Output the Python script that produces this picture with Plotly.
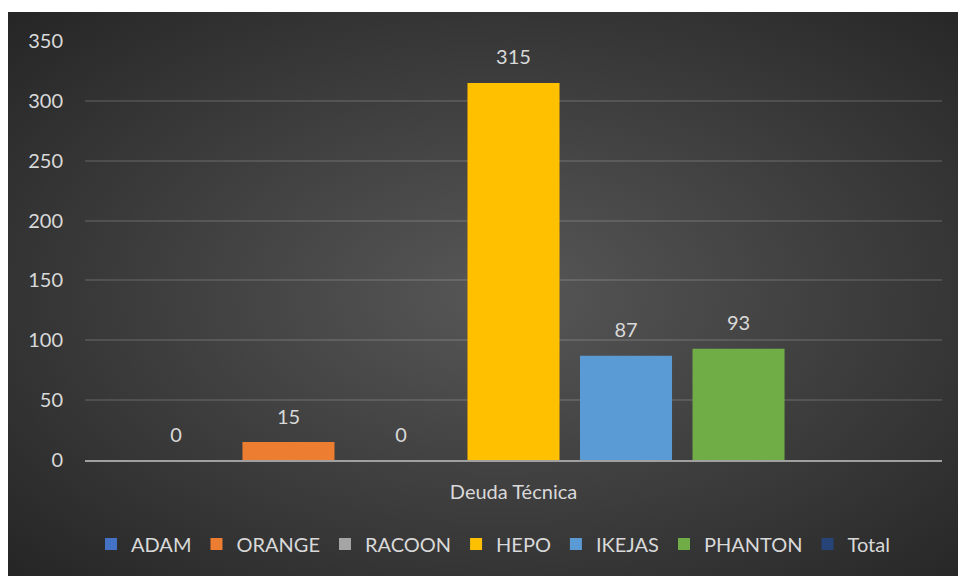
import base64
import plotly.graph_objects as go

# ---- data ----
categories = ["Deuda Técnica"]
series_names = ["ADAM", "ORANGE", "RACOON", "HEPO", "IKEJAS", "PHANTON", "Total"]
series_values = [0, 15, 0, 315, 87, 93, None]
series_colors = ["#4472C4", "#ED7D31", "#A5A5A5", "#FFC000", "#5B9BD5", "#70AD47", "#264478"]
y_ticks = [0, 50, 100, 150, 200, 250, 300, 350]

FONT = "Lato, 'Open Sans', sans-serif"
TXT = "#d9d9d9"

# ---- background radial gradient (styling) ----
svg = (
    '<svg xmlns="http://www.w3.org/2000/svg" width="950" height="564" viewBox="0 0 950 564" preserveAspectRatio="none">'
    '<defs><radialGradient id="g" cx="52%" cy="50%" r="71%">'
    '<stop offset="0" stop-color="#575757"/><stop offset="1" stop-color="#262626"/>'
    '</radialGradient></defs><rect width="950" height="564" fill="url(#g)"/></svg>'
)
src = "data:image/svg+xml;base64," + base64.b64encode(svg.encode()).decode()

W, H = 958, 576
L, R, T, B = 85, 16, 41, 116
pw, ph = W - L - R, H - T - B
def px(x): return (x - L) / pw
def py(y): return (H - B - y) / ph

fig = go.Figure()
for name, val, col in zip(series_names, series_values, series_colors):
    fig.add_trace(go.Bar(
        x=categories, y=[val], name=name, marker=dict(color=col, line=dict(width=0)),
    ))
for name, val in zip(series_names, series_values):
    fig.add_trace(go.Scatter(
        x=categories, y=[val], mode="markers+text", showlegend=False,
        text=[None if val is None else str(val)], textposition="top center",
        textfont=dict(color=TXT, size=20, family=FONT),
        marker=dict(size=20, opacity=0), orientation="v", hoverinfo="skip",
    ))

fig.update_layout(
    width=W, height=H,
    margin=dict(l=L, r=R, t=T, b=B, autoexpand=False),
    paper_bgcolor="white", plot_bgcolor="rgba(0,0,0,0)",
    barmode="group", bargap=0.081, bargroupgap=0.182,
    scattermode="group", scattergap=0.081,
    font=dict(family=FONT, color=TXT, size=20),
    images=[dict(source=src, xref="paper", yref="paper", x=px(8), y=py(12),
                 sizex=px(958) - px(8), sizey=py(12) - py(576), sizing="stretch",
                 xanchor="left", yanchor="top", layer="below")],
    legend=dict(orientation="h", x=px(493), xanchor="center", y=py(544), yanchor="middle",
                bgcolor="rgba(0,0,0,0)", font=dict(size=20, color=TXT, family=FONT),
                traceorder="normal"),
    showlegend=True,
)
fig.update_yaxes(range=[0, 350], tickvals=y_ticks, showgrid=True,
                 gridcolor="rgba(255,255,255,0.12)", gridwidth=1.5,
                 zeroline=False, showline=False, ticklabelstandoff=21,
                 tickfont=dict(size=20, color=TXT, family=FONT), fixedrange=True)
fig.update_xaxes(showline=True, linecolor="#a0a0a0", linewidth=2, showgrid=False,
                 ticklabelstandoff=13, tickfont=dict(size=20, color=TXT, family=FONT))

fig.write_html("out.html", config={"displayModeBar": False},
               post_script="document.body.style.margin='0';")
